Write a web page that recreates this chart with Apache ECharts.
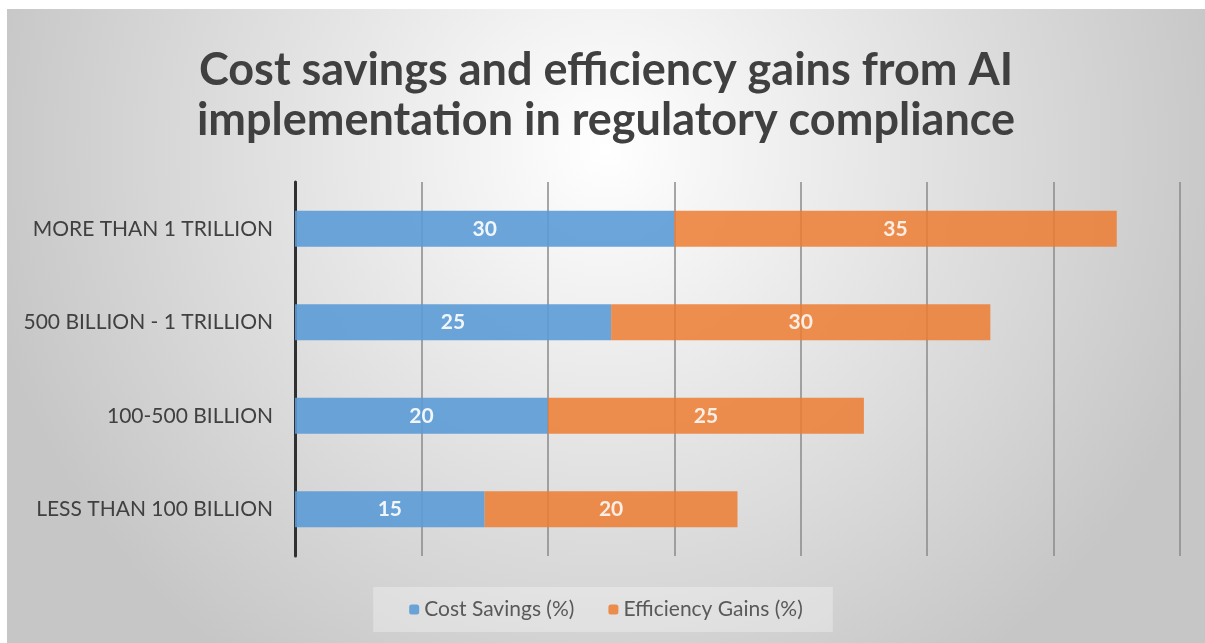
<!DOCTYPE html>
<html>
<head>
<meta charset="utf-8">
<script src="https://cdn.jsdelivr.net/npm/echarts@6/dist/echarts.min.js"></script>
<style>
  html, body { margin: 0; padding: 0; background: #ffffff; }
  #main { position: absolute; left: 7px; top: 9px; width: 1198px; height: 634px; }
</style>
</head>
<body>
<div id="main"></div>
<script>
// data
var categories = ["LESS THAN 100 BILLION", "100-500 BILLION", "500 BILLION - 1 TRILLION", "MORE THAN 1 TRILLION"];
var costSavings = [15, 20, 25, 30];
var efficiencyGains = [20, 25, 30, 35];
var seriesNames = ["Cost Savings (%)", "Efficiency Gains (%)"];
var titleText = "Cost savings and efficiency gains from AI\nimplementation in regulatory compliance";

var myChart = echarts.init(document.getElementById('main'));
var font = "Lato, 'Open Sans', sans-serif";

var option = {
    backgroundColor: {
        type: 'radial', x: 0.5, y: 0.22, r: 1.0,
        colorStops: [
            { offset: 0, color: '#ffffff' },
            { offset: 1, color: '#c6c6c6' }
        ]
    },
    textStyle: { fontFamily: font },
    title: {
        text: titleText,
        left: 'center',
        top: 31,
        textStyle: {
            fontFamily: font,
            fontSize: 45,
            fontWeight: 'bold',
            color: '#404040',
            lineHeight: 50
        }
    },
    legend: {
        data: seriesNames,
        bottom: 11,
        left: 'center',
        itemWidth: 10,
        itemHeight: 10,
        itemGap: 34,
        padding: [12, 30, 12, 36],
        backgroundColor: 'rgba(255,255,255,0.3)',
        textStyle: { fontFamily: font, fontSize: 21, color: '#595959' }
    },
    grid: {
        left: 288,
        right: 25,
        top: 173,
        bottom: 87
    },
    xAxis: {
        type: 'value',
        min: 0,
        max: 70,
        interval: 10,
        axisLabel: { show: false },
        axisLine: { show: false },
        axisTick: { show: false },
        splitLine: { lineStyle: { color: '#8a8a8a', width: 1.5 } }
    },
    yAxis: {
        type: 'category',
        data: categories,
        axisLine: { lineStyle: { color: '#303030', width: 3 } },
        axisTick: { show: false },
        axisLabel: {
            margin: 22,
            fontFamily: font,
            fontSize: 21,
            color: '#404040'
        }
    },
    series: [
        {
            name: seriesNames[0],
            type: 'bar',
            stack: 'total',
            data: costSavings,
            barWidth: 36,
            itemStyle: { color: '#5b9bd5', opacity: 0.9 },
            label: {
                show: true,
                position: 'inside',
                fontFamily: font,
                fontSize: 21,
                fontWeight: 'bold',
                color: '#ffffff'
            }
        },
        {
            name: seriesNames[1],
            type: 'bar',
            stack: 'total',
            data: efficiencyGains,
            barWidth: 36,
            itemStyle: { color: '#ed7d31', opacity: 0.85 },
            label: {
                show: true,
                position: 'inside',
                fontFamily: font,
                fontSize: 21,
                fontWeight: 'bold',
                color: '#ffffff'
            }
        }
    ]
};

myChart.setOption(option);
</script>
</body>
</html>
